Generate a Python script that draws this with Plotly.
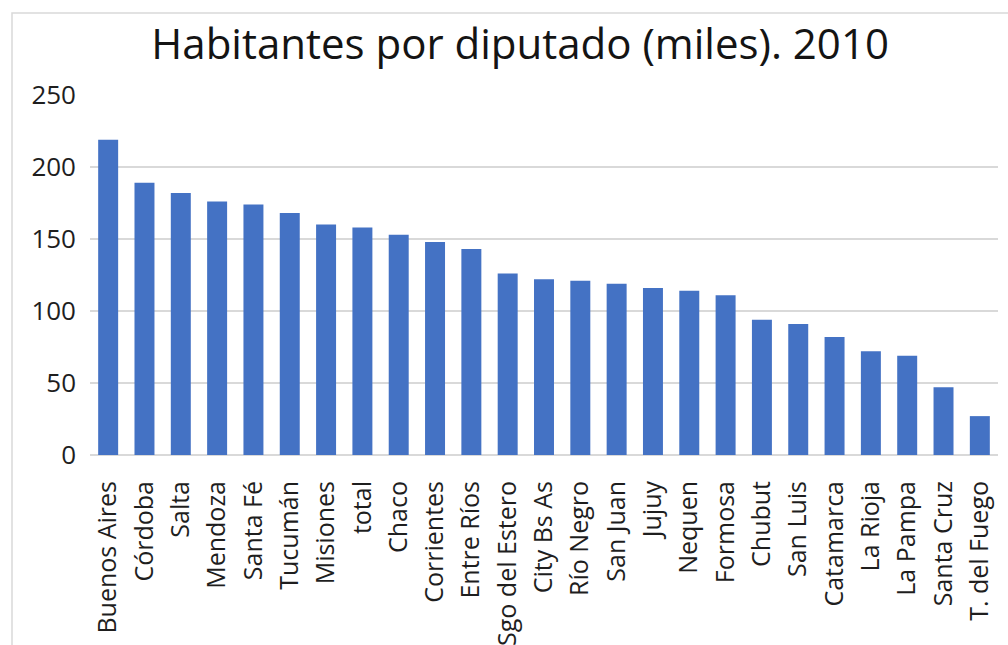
import plotly.graph_objects as go

categories = ["Buenos Aires", "Córdoba", "Salta", "Mendoza", "Santa Fé", "Tucumán",
              "Misiones", "total", "Chaco", "Corrientes", "Entre Ríos", "Sgo del Estero",
              "City Bs As", "Río Negro", "San Juan", "Jujuy", "Nequen", "Formosa",
              "Chubut", "San Luis", "Catamarca", "La Rioja", "La Pampa", "Santa Cruz",
              "T. del Fuego"]
values = [219, 189, 182, 176, 174, 168, 160, 158, 153, 148, 143, 126,
          122, 121, 119, 116, 114, 111, 94, 91, 82, 72, 69, 47, 27]
y_ticks = [0, 50, 100, 150, 200, 250]

FONT = "Open Sans"
TXT = "#1e1e1e"

fig = go.Figure(go.Bar(x=categories, y=values, marker=dict(color="#4472C4", line=dict(width=0))))

fig.update_layout(
    width=1008, height=645,
    margin=dict(l=90, r=10, t=95, b=190, autoexpand=False),
    paper_bgcolor="white", plot_bgcolor="white",
    bargap=0.45,
    showlegend=False,
    title=dict(text="Habitantes por diputado (miles). 2010", x=0.516, xanchor="center",
               y=1 - 44 / 645, yanchor="middle", yref="container",
               font=dict(family=FONT, size=42, color="#141414")),
    font=dict(family=FONT, size=25, color=TXT),
)
fig.update_xaxes(tickangle=-90, showgrid=False, showline=False, ticks="",
                 automargin=False, ticklabelstandoff=20,
                 tickfont=dict(family=FONT, size=25, color=TXT))
fig.update_yaxes(range=[0, 250], tickvals=y_ticks, showgrid=True, gridcolor="#d9d9d9",
                 gridwidth=2, zeroline=True, zerolinecolor="#d9d9d9", zerolinewidth=2,
                 showline=False, ticks="", automargin=False, ticklabelstandoff=13,
                 tickfont=dict(family=FONT, size=26, color=TXT))

# chart-area border (top and left visible)
fig.add_shape(type="rect", xref="paper", yref="paper", x0=-0.0859, x1=1.5, y0=-2, y1=1.2278,
              line=dict(color="#d9d9d9", width=1.5), layer="below")

fig.write_html("out.html")
